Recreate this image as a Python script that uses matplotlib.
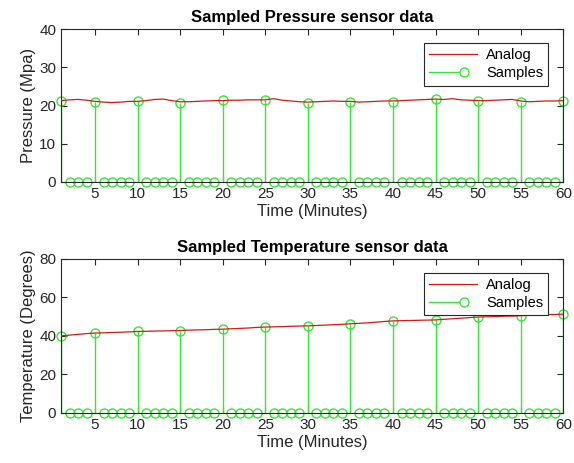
import numpy as np
import matplotlib
matplotlib.use("Agg")
import matplotlib.pyplot as plt
from matplotlib.lines import Line2D
from matplotlib.legend_handler import HandlerBase

plt.rcParams['font.family'] = ['Liberation Sans', 'DejaVu Sans']

minutes = list(range(1, 61))

# analog pressure (Mpa), one value per minute
pressure = [21.3, 21.5, 21.6, 21.4, 21.1, 20.9, 20.8, 20.9, 21.1, 21.1,
            21.3, 21.6, 21.7, 21.3, 21.0, 21.0, 21.1, 21.2, 21.3, 21.3,
            21.4, 21.4, 21.5, 21.5, 21.5, 21.8, 21.4, 21.2, 21.0, 20.9,
            21.0, 21.1, 21.2, 21.1, 21.1, 20.9, 21.0, 21.1, 21.2, 21.2,
            21.3, 21.4, 21.5, 21.6, 21.7, 21.6, 21.8, 21.5, 21.4, 21.3,
            21.3, 21.4, 21.5, 21.6, 21.2, 21.0, 21.1, 21.2, 21.2, 21.3]

# analog temperature (Degrees), one value per minute
temperature = [40.0, 40.4, 40.8, 41.2, 41.5, 41.6, 41.8, 41.9, 42.1, 42.3,
               42.4, 42.5, 42.6, 42.7, 42.8, 43.0, 43.1, 43.2, 43.4, 43.5,
               43.7, 43.9, 44.1, 44.4, 44.6, 44.7, 44.8, 45.0, 45.1, 45.2,
               45.4, 45.6, 45.8, 46.0, 46.3, 46.5, 46.8, 47.1, 47.5, 47.8,
               47.9, 48.0, 48.1, 48.2, 48.3, 48.6, 48.9, 49.2, 49.5, 49.8,
               49.9, 50.0, 50.2, 50.3, 50.5, 50.7, 50.8, 51.0, 51.1, 51.3]

# sampled values (non-zero only at minute 1 and every 5 minutes)
sample_min = [1, 5, 10, 15, 20, 25, 30, 35, 40, 45, 50, 55, 60]
pressure_samples = [21.3, 21.0, 21.1, 20.8, 21.4, 21.4, 20.8, 21.0, 21.0, 21.8, 21.3, 21.0, 21.3]
temp_samples = [40.0, 41.7, 42.3, 42.8, 43.5, 44.7, 45.2, 46.3, 47.8, 48.0, 49.8, 50.5, 51.3]

red = '#d21a1a'
green = '#3ee23e'
axcol = '#262626'


class StemHandler(HandlerBase):
    # matlab style stem icon: line with the circle near the right end
    def create_artists(self, legend, orig_handle, xdescent, ydescent,
                       width, height, fontsize, trans):
        y = height / 2 - ydescent
        xe = -xdescent + 0.72 * width
        ln = Line2D([-xdescent, xe], [y, y], color=green, lw=1.0)
        mk = Line2D([xe], [y], marker='o', markersize=6.5, markerfacecolor='white',
                    markeredgecolor=green, markeredgewidth=1.0, linestyle='none')
        ln.set_transform(trans)
        mk.set_transform(trans)
        return [ln, mk]


def stem_panel(ax, analog, samples, title, ylabel, ymax, yticks):
    vals = [0.0] * len(minutes)
    for m, v in zip(sample_min, samples):
        vals[minutes.index(m)] = v
    an, = ax.plot(minutes, analog, color=red, lw=0.9, zorder=3)
    ml, sl, bl = ax.stem(minutes, vals, linefmt='-', markerfmt='o', basefmt=' ')
    plt.setp(sl, color=green, lw=1.0)
    plt.setp(ml, color=green, markerfacecolor='none', markersize=6.5, markeredgewidth=1.0,
             clip_on=False)
    ax.set_xlim(1, 60)
    ax.set_ylim(0, ymax)
    ax.set_xticks(range(5, 61, 5))
    ax.set_yticks(yticks)
    ax.tick_params(direction='in', top=True, right=True, labelsize=11, colors=axcol, length=4)
    for s in ax.spines.values():
        s.set_color(axcol)
        s.set_linewidth(0.8)
    ax.set_title(title, fontsize=12, fontweight='bold', pad=5)
    ax.set_xlabel('Time (Minutes)', fontsize=12, color=axcol, labelpad=2)
    ax.set_ylabel(ylabel, fontsize=12, color=axcol, labelpad=2)
    proxy = Line2D([], [], color=green)
    leg = ax.legend([an, proxy], ['Analog', 'Samples'], loc='upper right', fontsize=10.5,
                    fancybox=False, framealpha=1, edgecolor=axcol, borderpad=0.35,
                    handlelength=3.3, handletextpad=0.6, labelspacing=0.3,
                    borderaxespad=0, bbox_to_anchor=(0.97, 0.91),
                    handler_map={proxy: StemHandler()})
    leg.get_frame().set_linewidth(0.8)


fig = plt.figure(figsize=(5.74, 4.63), dpi=100)
ax1 = fig.add_axes([0.1063, 0.607, 0.875, 0.330])
ax2 = fig.add_axes([0.1063, 0.108, 0.875, 0.333])

stem_panel(ax1, pressure, pressure_samples, 'Sampled Pressure sensor data', 'Pressure (Mpa)', 40, [0, 10, 20, 30, 40])
stem_panel(ax2, temperature, temp_samples, 'Sampled Temperature sensor data', 'Temperature (Degrees)', 80, [0, 20, 40, 60, 80])

fig.savefig('out.png', dpi=100)
